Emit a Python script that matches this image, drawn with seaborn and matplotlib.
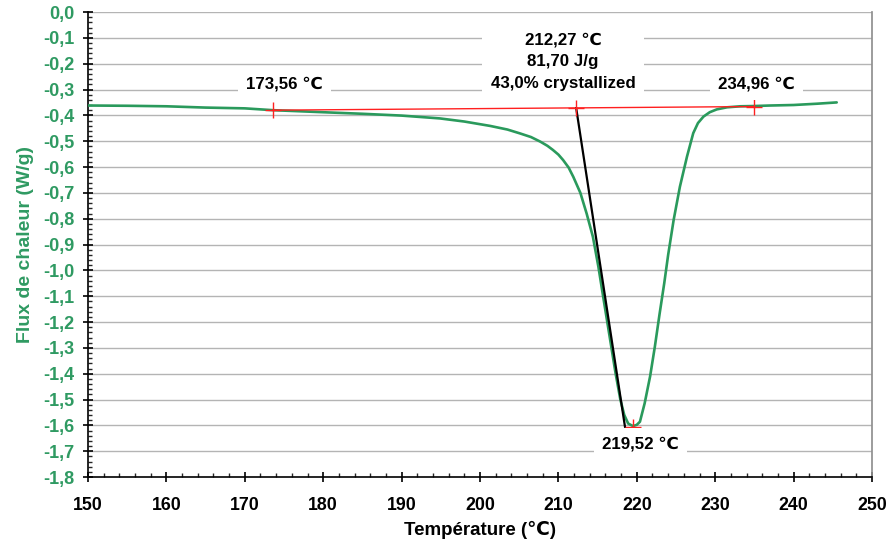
import matplotlib
matplotlib.use("Agg")
import matplotlib.pyplot as plt
import seaborn as sns
import pandas as pd
from matplotlib.ticker import MultipleLocator, FuncFormatter

temperature = [150, 155, 160, 165, 170, 173.56, 176, 180, 185, 190, 194.9, 198, 201.3,
               203.5, 205.1, 206.5, 207.7, 208.6, 209.3, 210.0, 210.6, 211.3, 211.9,
               212.8, 213.6, 214.4, 215.1, 215.7, 216.5, 217.3, 217.9, 218.4, 218.9,
               219.52, 220.0, 220.4, 221.0, 221.7, 222.3, 222.9, 223.5, 224.0, 224.7,
               225.5, 226.4, 227.2, 227.8, 228.5, 229.3, 230.2, 231.5, 233.2, 234.96,
               237, 240, 243, 245.5]
flux = [-0.362, -0.363, -0.365, -0.370, -0.373, -0.380, -0.383, -0.388, -0.394, -0.401,
        -0.412, -0.424, -0.441, -0.455, -0.470, -0.484, -0.502, -0.518, -0.534, -0.552,
        -0.573, -0.602, -0.638, -0.700, -0.780, -0.870, -0.986, -1.100, -1.250, -1.400,
        -1.500, -1.560, -1.593, -1.603, -1.598, -1.586, -1.515, -1.410, -1.296, -1.170,
        -1.050, -0.940, -0.805, -0.676, -0.560, -0.469, -0.430, -0.405, -0.388, -0.377,
        -0.369, -0.365, -0.364, -0.362, -0.360, -0.355, -0.350]

baseline_t = [173.56, 234.96]
baseline_f = [-0.380, -0.366]
tangent_t = [212.27, 218.5]
tangent_f = [-0.372, -1.607]
mark_t = [173.56, 212.27, 234.96, 219.52]
mark_f = [-0.380, -0.372, -0.366, -1.607]
annotations = [
    (175.1, -0.279, "173,56 ℃"),
    (210.6, -0.193, "212,27 ℃\n81,70 J/g\n43,0% crystallized"),
    (235.3, -0.279, "234,96 ℃"),
    (220.5, -1.672, "219,52 ℃"),
]

GREEN = "#2f9a62"
LINE_GREEN = "#2a9a5c"

sns.set_theme(style="white")
plt.rcParams['font.family'] = ['Liberation Sans', 'DejaVu Sans']
plt.rcParams['font.weight'] = 'bold'

fig = plt.figure(figsize=(8.89, 5.41), dpi=100)
ax = fig.add_axes([88/889, 1-477/541, (872-88)/889, (477-12)/541])

for i in range(0, 18):
    ax.axhline(-i/10, color="#b4b4b4", lw=1.0, zorder=0)

df = pd.DataFrame({"T": temperature, "F": flux})
sns.lineplot(data=df, x="T", y="F", ax=ax, color=LINE_GREEN, lw=1.9, sort=False,
             estimator=None, zorder=3)
ax.plot(baseline_t, baseline_f, color="#ff2020", lw=1.0, zorder=4)
ax.plot(tangent_t, tangent_f, color="black", lw=1.6, zorder=4)
ax.plot(mark_t, mark_f, linestyle="none", marker="+", markersize=11, mew=1.0,
        color="#ff2020", zorder=5)

for t, f, s in annotations:
    ax.text(t, f, s, ha="center", va="center", ma="center", fontsize=12.2,
            fontweight="bold", color="black", zorder=6, linespacing=1.55,
            bbox=dict(facecolor="white", edgecolor="none", pad=6))

ax.set_xlim(150, 250)
ax.set_ylim(-1.8, 0.0)
ax.xaxis.set_major_locator(MultipleLocator(10))
ax.xaxis.set_minor_locator(MultipleLocator(2))
ax.yaxis.set_major_locator(MultipleLocator(0.1))
ax.yaxis.set_minor_locator(MultipleLocator(0.02))
ax.yaxis.set_major_formatter(FuncFormatter(
    lambda v, p: f"{v:.1f}".replace(".", ",").replace("-0,0", "0,0")))

ax.tick_params(axis="both", which="major", direction="inout", length=7, width=1.2,
               colors="black", bottom=True, left=True)
ax.tick_params(axis="x", which="major", pad=11, labelsize=12.8)
ax.tick_params(axis="y", which="major", pad=6, labelsize=13, labelcolor=GREEN)
ax.tick_params(axis="both", which="minor", direction="in", length=3, width=1.0,
               bottom=True, left=True)

ax.set_xlabel("Température (℃)", fontsize=13.5, fontweight="bold", color="black", labelpad=5)
ax.set_ylabel("Flux de chaleur (W/g)", fontsize=14, fontweight="bold", color=GREEN, labelpad=7)

ax.spines["left"].set_color("black")
ax.spines["bottom"].set_color("black")
ax.spines["left"].set_linewidth(1.2)
ax.spines["bottom"].set_linewidth(1.2)
ax.spines["right"].set_color("#909090")
ax.spines["top"].set_visible(False)

fig.savefig("out.png", dpi=100, facecolor="white")
